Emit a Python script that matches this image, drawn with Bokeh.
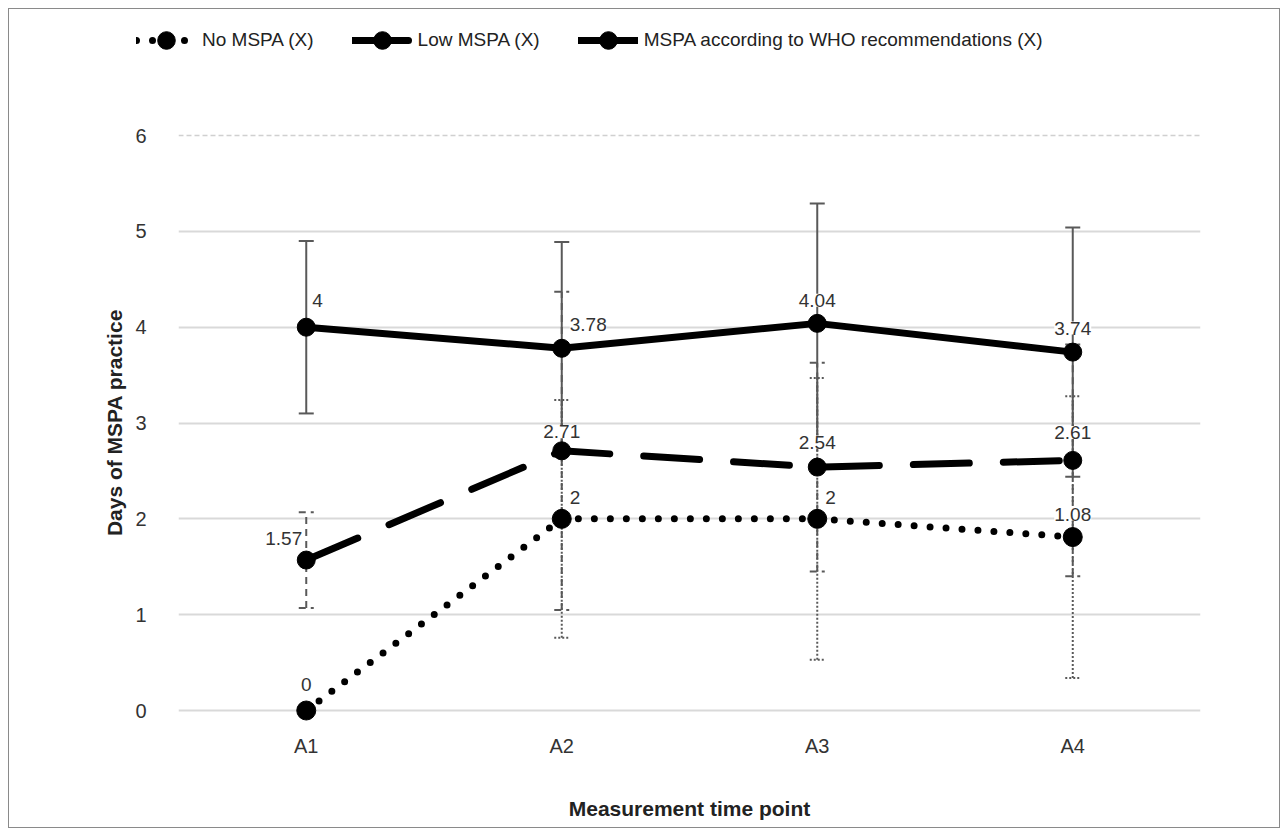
from bokeh.plotting import figure
from bokeh.layouts import column
from bokeh.models import (ColumnDataSource, FactorRange, Range1d, FixedTicker, Span,
                          Legend, LegendItem, LabelSet)
from bokeh.core.properties import value
from bokeh.embed import file_html
from bokeh.resources import INLINE

# ---------------- data ----------------
categories = ["A1", "A2", "A3", "A4"]
no_mspa = [0, 2, 2, 1.81]
low_mspa = [1.57, 2.71, 2.54, 2.61]
who_mspa = [4, 3.78, 4.04, 3.74]

no_err = [0, 1.24, 1.47, 1.47]
low_err = [0.5, 1.66, 1.09, 1.21]
who_err = [0.9, 1.11, 1.25, 1.30]

no_labels = ["0", "2", "2", "1.08"]
low_labels = ["1.57", "2.71", "2.54", "2.61"]
who_labels = ["4", "3.78", "4.04", "3.74"]

series_names = ["No MSPA (X)", "Low MSPA (X)", "MSPA according to WHO recommendations (X)"]
y_ticks = [0, 1, 2, 3, 4, 5, 6]

# ---------------- styles ----------------
FONT = "Liberation Sans"
ERR_COLOR = "#595959"
no_lab_style = dict(xo=[0, 8, 8, 0], yo=[26, 21, 21, 23], al=["center", "left", "left", "center"])
low_lab_style = dict(xo=[-4, 0, 0, 0], yo=[22, 19, 25, 28], al=["right", "center", "center", "center"])
who_lab_style = dict(xo=[6, 8, 0, 0], yo=[27, 24, 23, 24], al=["left", "left", "center", "center"])
DOT = dict(line_color="black", line_width=7, line_dash="0 16", line_cap="round")
DASH = dict(line_color="black", line_width=7, line_dash="56 34", line_cap="round")
SOLID = dict(line_color="black", line_width=7, line_cap="round", line_join="round")

W = 1270
LEG_H = 95
MAIN_H = 818 - LEG_H

p = figure(width=W, height=MAIN_H, x_range=FactorRange(*categories, range_padding=0),
           y_range=Range1d(-0.146, 6.157), output_backend="svg", toolbar_location=None,
           min_border_left=169, min_border_right=79, min_border_top=16, min_border_bottom=103)
p.outline_line_color = None
p.background_fill_color = "white"

# axes
for ax in (p.xaxis, p.yaxis):
    ax.axis_line_color = None
    ax.major_tick_line_color = None
    ax.minor_tick_line_color = None
    ax.major_tick_out = 0
    ax.major_tick_in = 0
    ax.major_label_text_font = FONT
    ax.major_label_text_font_size = "20px"
    ax.major_label_text_color = "#333333"
    ax.axis_label_text_font = FONT
    ax.axis_label_text_font_size = "21px"
    ax.axis_label_text_font_style = "bold"
    ax.axis_label_text_color = "#222222"
p.yaxis.ticker = FixedTicker(ticks=y_ticks)
p.yaxis.major_label_standoff = 32
p.yaxis.axis_label = "Days of MSPA practice"
p.yaxis.axis_label_standoff = 6
p.xaxis.major_label_standoff = 10
p.xaxis.axis_label = "Measurement time point"
p.xaxis.axis_label_standoff = 37

p.xgrid.grid_line_color = None
p.ygrid.ticker = FixedTicker(ticks=y_ticks[:-1])
p.ygrid.grid_line_color = "#d9d9d9"
p.ygrid.grid_line_width = 2
p.add_layout(Span(location=y_ticks[-1], dimension="width", line_color="#d0d0d0",
                  line_width=1.5, line_dash="5 3"))

# error bars
def err_bars(vals, errs, dash):
    lo = [v - e for v, e in zip(vals, errs)]
    hi = [v + e for v, e in zip(vals, errs)]
    idx = [i for i, e in enumerate(errs) if e > 0]
    src = ColumnDataSource(dict(x=[categories[i] for i in idx], lo=[lo[i] for i in idx],
                                hi=[hi[i] for i in idx]))
    p.segment(x0="x", y0="lo", x1="x", y1="hi", source=src, line_color=ERR_COLOR,
              line_width=2, line_dash=dash)
    for key in ("lo", "hi"):
        p.scatter(x="x", y=key, source=src, marker="dash", size=15, line_color=ERR_COLOR,
                  line_width=2, line_dash=dash)

err_bars(who_mspa, who_err, "solid")
err_bars(low_mspa, low_err, "7 5")
err_bars(no_mspa, no_err, "2 2")

# lines + markers
p.line(categories, no_mspa, **DOT)
p.line(categories, low_mspa, **DASH)
p.line(categories, who_mspa, **SOLID)
p.scatter(categories, no_mspa, size=19, color="black")
p.scatter(categories, low_mspa, size=18, color="black")
p.scatter(categories, who_mspa, size=18, color="black")

# data labels
def labels(vals, texts, st):
    src = ColumnDataSource(dict(x=categories, y=vals, t=texts, xo=st["xo"], yo=st["yo"], al=st["al"]))
    p.add_layout(LabelSet(x="x", y="y", text="t", source=src, x_offset="xo", y_offset="yo",
                          text_align="al", text_baseline="middle", text_font=value(FONT),
                          text_font_size="19px", text_color="#333333",
                          background_fill_color="white"))

labels(who_mspa, who_labels, who_lab_style)
labels(low_mspa, low_labels, low_lab_style)
labels(no_mspa, no_labels, no_lab_style)

# ---------------- legend strip ----------------
lg = figure(width=W, height=LEG_H, x_range=Range1d(0, 1), y_range=Range1d(0, 1),
            x_axis_type=None, y_axis_type=None, output_backend="svg", toolbar_location=None,
            min_border=0)
lg.frame_align = False
lg.outline_line_color = None
lg.grid.visible = False
items = []
for name, style in zip(series_names, (DOT, DASH, SOLID)):
    # legend proxies placed outside the visible range of the strip
    src = ColumnDataSource(dict(x=[5, 6], y=[5, 5]))
    r1 = lg.line(x="x", y="y", source=src, **style)
    r2 = lg.scatter(x="x", y="y", source=src, size=18, color="black")
    items.append(LegendItem(label=name, renderers=[r1, r2]))
legend = Legend(items=items, orientation="horizontal", location=(127, 42), glyph_width=60,
                glyph_height=44, label_standoff=6, spacing=38, padding=0, margin=0,
                border_line_color=None, background_fill_alpha=0, label_text_font=FONT,
                label_text_font_size="19px", label_text_color="#222222")
lg.add_layout(legend)

layout = column(lg, p, spacing=0)
layout.margin = (8, 8, 8, 8)
layout.styles = {"border": "1px solid #8a8a8a"}

open("out.html", "w").write(file_html(layout, INLINE))
